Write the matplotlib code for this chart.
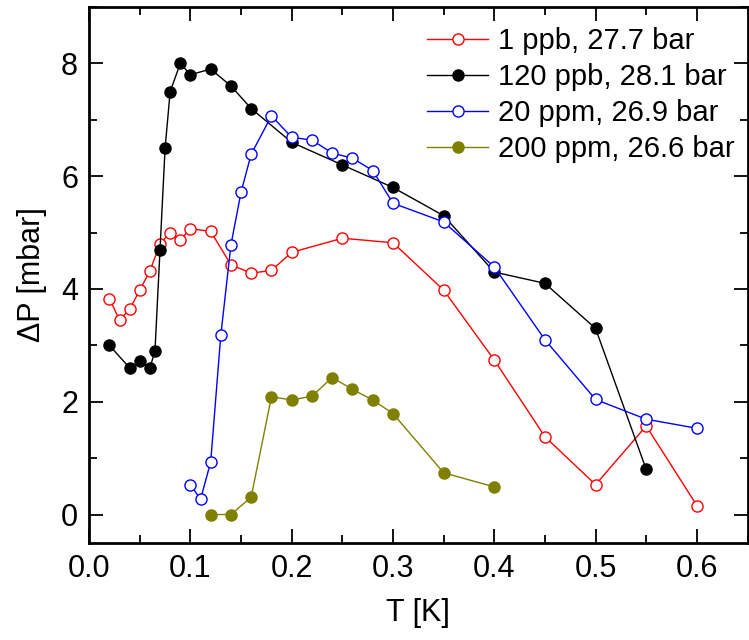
import numpy as np
import matplotlib
matplotlib.use('Agg')
import matplotlib.pyplot as plt
from matplotlib.ticker import MultipleLocator

plt.rcParams['font.family'] = ['Liberation Sans', 'DejaVu Sans']

# 1 ppb, 27.7 bar
t_1ppb = [0.02, 0.03, 0.04, 0.05, 0.06, 0.07, 0.08, 0.09, 0.10, 0.12, 0.14,
          0.16, 0.18, 0.20, 0.25, 0.30, 0.35, 0.40, 0.45, 0.50, 0.55, 0.60]
p_1ppb = [3.83, 3.45, 3.64, 3.98, 4.32, 4.80, 5.00, 4.87, 5.07, 5.02, 4.43,
          4.28, 4.33, 4.65, 4.90, 4.82, 3.98, 2.74, 1.38, 0.53, 1.57, 0.16]

# 120 ppb, 28.1 bar
t_120ppb = [0.02, 0.04, 0.05, 0.06, 0.065, 0.07, 0.075, 0.08, 0.09, 0.10, 0.12,
            0.14, 0.16, 0.20, 0.25, 0.30, 0.35, 0.40, 0.45, 0.50, 0.55]
p_120ppb = [3.0, 2.6, 2.72, 2.6, 2.9, 4.7, 6.5, 7.5, 8.0, 7.8, 7.9,
            7.6, 7.2, 6.6, 6.2, 5.8, 5.3, 4.3, 4.1, 3.3, 0.8]

# 20 ppm, 26.9 bar
t_20ppm = [0.10, 0.11, 0.12, 0.13, 0.14, 0.15, 0.16, 0.18, 0.20, 0.22,
           0.24, 0.26, 0.28, 0.30, 0.35, 0.40, 0.45, 0.50, 0.55, 0.60]
p_20ppm = [0.53, 0.27, 0.93, 3.18, 4.78, 5.72, 6.39, 7.07, 6.69, 6.64,
           6.41, 6.32, 6.10, 5.52, 5.19, 4.39, 3.10, 2.04, 1.69, 1.53]

# 200 ppm, 26.6 bar
t_200ppm = [0.12, 0.14, 0.16, 0.18, 0.20, 0.22, 0.24, 0.26, 0.28, 0.30, 0.35, 0.40]
p_200ppm = [0.0, 0.0, 0.31, 2.09, 2.03, 2.10, 2.43, 2.22, 2.03, 1.79, 0.74, 0.49]

fig = plt.figure(figsize=(7.49, 6.4), dpi=100)
ax = fig.add_axes([0.119, 0.152, 0.879, 0.837])

ms = 8
ax.plot(t_1ppb, p_1ppb, '-o', color='red', lw=1, ms=ms, mfc='white',
        mec='red', mew=1, label='1 ppb, 27.7 bar')
ax.plot(t_120ppb, p_120ppb, '-o', color='black', lw=1, ms=ms,
        label='120 ppb, 28.1 bar')
ax.plot(t_20ppm, p_20ppm, '-o', color='blue', lw=1, ms=ms, mfc='white',
        mec='blue', mew=1, label='20 ppm, 26.9 bar')
ax.plot(t_200ppm, p_200ppm, '-o', color='#808000', lw=1, ms=ms,
        label='200 ppm, 26.6 bar')

ax.set_xlim(0, 0.65)
ax.set_ylim(-0.5, 9)
ax.xaxis.set_major_locator(MultipleLocator(0.1))
ax.xaxis.set_minor_locator(MultipleLocator(0.05))
ax.yaxis.set_major_locator(MultipleLocator(2))
ax.yaxis.set_minor_locator(MultipleLocator(1))
ax.tick_params(which='both', direction='in', top=True, right=True,
               labelsize=22, width=1.3, pad=8)
ax.tick_params(which='major', length=10)
ax.tick_params(which='minor', length=6)
ax.xaxis.set_major_formatter(plt.FuncFormatter(lambda v, p: f'{v:.1f}'))
for s in ax.spines.values():
    s.set_linewidth(2)

ax.set_xlabel('T [K]', fontsize=22, labelpad=10)
ax.set_ylabel('ΔP [mbar]', fontsize=22, labelpad=10)

ax.legend(loc='upper right', bbox_to_anchor=(1.012, 1.0), frameon=False,
          fontsize=21, handlelength=2.1, handletextpad=0.35,
          labelspacing=0.27, borderaxespad=0.15, borderpad=0.55)

fig.savefig('out.png', dpi=100)
